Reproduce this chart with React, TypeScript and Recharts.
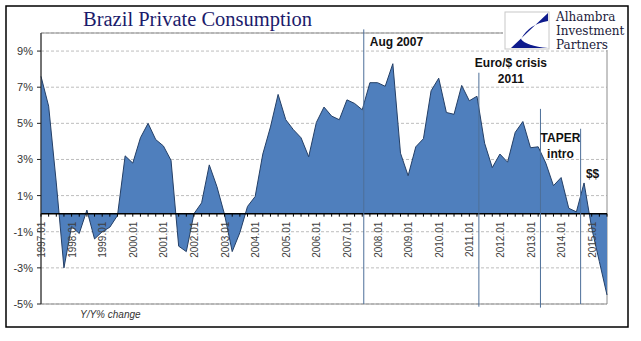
import React from "react";
import { AreaChart, Area, XAxis, YAxis, CartesianGrid, ReferenceLine, ReferenceArea } from "recharts";

// quarterly y/y % change, 1997 Q1 .. 2015 Q3
const years = [1997, 1998, 1999, 2000, 2001, 2002, 2003, 2004, 2005, 2006, 2007, 2008, 2009, 2010, 2011, 2012, 2013, 2014, 2015];
const quarters = ["01", "02", "03", "04"];
const values = [
  7.6, 5.95, 1.7, -3.0,
  -0.7, -1.1, 0.2, -1.4,
  -1.0, -0.75, -0.1, 3.2,
  2.8, 4.2, 5.0, 4.1,
  3.75, 2.95, -1.8, -2.1,
  0.0, 0.6, 2.7, 1.5,
  -0.05, -2.1, -1.05, 0.4,
  0.95, 3.3, 4.8, 6.6,
  5.2, 4.65, 4.2, 3.15,
  5.05, 5.9, 5.4, 5.2,
  6.3, 6.1, 5.75, 7.25,
  7.25, 7.05, 8.3, 3.35,
  2.1, 3.7, 4.15, 6.8,
  7.5, 5.6, 5.5, 7.1,
  6.25, 6.5, 3.9, 2.55,
  3.3, 2.85, 4.5, 5.1,
  3.65, 3.7, 2.8, 1.55,
  2.0, 0.3, 0.1, 1.7,
  -0.8, -2.65, -4.5,
];
const yTicks = [-5, -3, -1, 1, 3, 5, 7, 9];

// event markers (position in quarters since 1997 Q1, top / bottom of line in %)
const eventLabels = [["Aug 2007"], ["Euro/$ crisis", "2011"], ["TAPER", "intro"], ["$$"]];
const eventAt = [42.2, 57.25, 65.3, 70.55];
const eventTop = [10.2, 7.8, 5.8, 4.7];
const eventBottom = [-5, -5.15, -5.2, -5];

const labels = years.flatMap((y) => quarters.map((q) => `${y}.${q}`)).slice(0, values.length);
const data = values.map((v, i) => ({ idx: i, label: labels[i], value: v }));

const W = 641;
const H = 341;
const M = { top: 33, right: 34, bottom: 36, left: 0 };
const Y_MIN = -5;
const Y_MAX = 10;
const PLOT_H = H - M.top - M.bottom - 1; // x axis takes 1px
const ZERO_Y = M.top + (Y_MAX / (Y_MAX - Y_MIN)) * PLOT_H;

const labelLayout = [
  { dx: 6, dy: 17, anchor: "start" },
  { dx: 32, dy: -6, anchor: "middle" },
  { dx: 20, dy: 33, anchor: "middle" },
  { dx: 12, dy: 49, anchor: "middle" },
];

function XTick(props: any) {
  const { x, payload } = props;
  const i = payload.value;
  return (
    <g>
      <line x1={x} x2={x} y1={ZERO_Y} y2={ZERO_Y + 3} stroke="#000" />
      {i % 4 === 0 && (
        <text
          transform={`translate(${x + 4},${ZERO_Y + 8}) rotate(-90)`}
          textAnchor="end"
          fontSize={10}
          fontFamily="Liberation Sans, Arial, sans-serif"
          fill="#404040"
        >
          {labels[i]}
        </text>
      )}
    </g>
  );
}

function eventLabel(i: number) {
  return (p: any) => {
    const vb = p.viewBox || {};
    const l = labelLayout[i];
    return (
      <text
        x={vb.x + l.dx}
        y={vb.y + l.dy}
        textAnchor={l.anchor}
        fontSize={12}
        fontWeight="bold"
        fontFamily="Liberation Sans, Arial, sans-serif"
        fill="#111"
      >
        {eventLabels[i].map((t, k) => (
          <tspan key={k} x={vb.x + l.dx} dy={k === 0 ? 0 : 16}>
            {t}
          </tspan>
        ))}
      </text>
    );
  };
}

export default function App() {
  return (
    <div style={{ position: "absolute", left: 0, top: 0, width: W, height: H, background: "#fff" }}>
      <AreaChart width={W} height={H} data={data} margin={M}>
        <CartesianGrid vertical={false} stroke="#bdbdbd" strokeDasharray="3 2" />
        <ReferenceArea x1={0} x2={values.length - 1} y1={Y_MIN} y2={Y_MAX} fill="none" stroke="#8c8c8c" ifOverflow="visible" />
        <YAxis
          width={41}
          domain={[Y_MIN, Y_MAX]}
          ticks={yTicks}
          tickFormatter={(v) => `${v}%`}
          tick={{ fontSize: 11, fill: "#333", fontFamily: "Liberation Sans, Arial, sans-serif" }}
          tickSize={4}
          tickMargin={4}
          axisLine={{ stroke: "#222" }}
          tickLine={{ stroke: "#222" }}
        />
        <Area
          type="linear"
          dataKey="value"
          baseValue={0}
          stroke="#243f66"
          strokeWidth={1}
          fill="#4f7fbd"
          fillOpacity={1}
          dot={false}
          activeDot={false}
          isAnimationActive={false}
        />
        <ReferenceLine y={0} stroke="#000" strokeWidth={1.5} />
        <XAxis
          type="number"
          dataKey="idx"
          domain={[0, values.length - 1]}
          ticks={data.map((d) => d.idx)}
          interval={0}
          height={1}
          axisLine={false}
          tickLine={false}
          tick={<XTick />}
        />
        {eventAt.map((x, i) => (
          <ReferenceLine
            key={i}
            segment={[
              { x, y: eventTop[i] },
              { x, y: eventBottom[i] },
            ]}
            stroke="#4d6f99"
            strokeWidth={1}
            ifOverflow="visible"
            label={eventLabel(i)}
          />
        ))}
      </AreaChart>
      <svg width={W} height={H} style={{ position: "absolute", left: 0, top: 0, pointerEvents: "none" }}>
        <rect x={6} y={6} width={622} height={321} fill="none" stroke="#000" strokeWidth={1.5} />
        <text x={83} y={26} fontSize={20.5} fontFamily="Liberation Serif, Times New Roman, serif" fill="#1b1b6b">
          Brazil Private Consumption
        </text>
        <text x={80} y={318} fontSize={10} fontStyle="italic" fontFamily="Liberation Sans, Arial, sans-serif" fill="#333">
          Y/Y% change
        </text>
        <rect x={503} y={8} width={124} height={42} fill="#fff" />
        <rect x={505} y={12} width={44} height={37} fill="#fff" stroke="#c8c8c8" />
        <path d="M548 13 L511 48 L548 48 Q526 46 521 39 Q529 24 548 21 Z" fill="#0d1a8c" />
        <g fontFamily="DejaVu Serif, Liberation Serif, serif" fontSize={12} fill="#1a1a3a">
          <text x={556} y={21}>Alhambra</text>
          <text x={556} y={35}>Investment</text>
          <text x={556} y={49}>Partners</text>
        </g>
      </svg>
    </div>
  );
}
